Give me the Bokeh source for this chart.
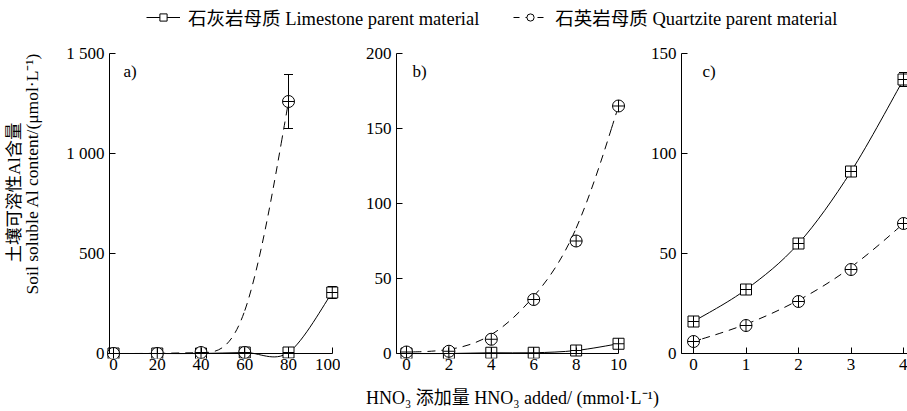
import numpy as np
from bokeh.plotting import figure
from bokeh.models import (ColumnDataSource, Whisker, FixedTicker, Label, Legend,
                          LegendItem, Range1d, TeeHead, LinearAxis)
from bokeh.layouts import column, row
from bokeh.embed import file_html
from bokeh.resources import INLINE

# ---------------- data ----------------
a_x = [0, 20, 40, 60, 80, 100]
a_lime = [0, 0, 0, 5, 5, 305]
a_lime_err = [5, 5, 10, 10, 10, 30]
a_qx = [0, 20, 40, 60, 80]
a_quartz = [0, 0, 5, 5, 1260]
a_quartz_err = [5, 5, 10, 10, 135]

b_x = [0, 2, 4, 6, 8, 10]
b_lime = [0, 0, 0.5, 0.5, 2, 6.5]
b_lime_err = [0.5, 0.5, 0.8, 0.8, 1, 1.5]
b_quartz = [1, 1.5, 9.5, 36, 75, 165]
b_quartz_err = [0.5, 0.8, 2, 2.5, 3, 2]

c_x = [0, 1, 2, 3, 4]
c_lime = [16, 32, 55, 91, 137]
c_lime_err = [1.5, 1.5, 2, 2.5, 3.5]
c_quartz = [6, 14, 26, 42, 65]
c_quartz_err = [1.5, 1.5, 1.5, 1.5, 1.5]

a_xticks = [0, 20, 40, 60, 80, 100]
a_yticks = [0, 500, 1000, 1500]
b_xticks = [0, 2, 4, 6, 8, 10]
b_yticks = [0, 50, 100, 150, 200]
c_xticks = [0, 1, 2, 3, 4]
c_yticks = [0, 50, 100, 150]

lime_name = "石灰岩母质 Limestone parent material"
quartz_name = "石英岩母质 Quartzite parent material"
x_title = "HNO\u2083 添加量 HNO\u2083 added/ (mmol·L\u207b\u00b9)"
y_title_cn = "土壤可溶性Al含量"
y_title_en = "Soil soluble Al content/(μmol·L\u207b\u00b9)"

FONT = "'Liberation Serif', 'Noto Sans CJK SC', serif"
FS = "17px"
FS_T = "17.5px"
FS_L = "18.5px"

PANEL_H = 345


def catmull_rom(xs, ys):
    px = [xs[0]] + list(xs) + [xs[-1]]
    py = [ys[0]] + list(ys) + [ys[-1]]
    d = dict(x0=[], y0=[], x1=[], y1=[], cx0=[], cy0=[], cx1=[], cy1=[])
    for i in range(1, len(px) - 2):
        d["x0"].append(px[i]); d["y0"].append(py[i])
        d["x1"].append(px[i + 1]); d["y1"].append(py[i + 1])
        d["cx0"].append(px[i] + (px[i + 1] - px[i - 1]) / 6)
        d["cy0"].append(py[i] + (py[i + 1] - py[i - 1]) / 6)
        d["cx1"].append(px[i + 1] - (px[i + 2] - px[i]) / 6)
        d["cy1"].append(py[i + 1] - (py[i + 2] - py[i]) / 6)
    return d


def bspline(xs, ys):
    px = [xs[0]] * 2 + list(xs) + [xs[-1]] * 2
    py = [ys[0]] * 2 + list(ys) + [ys[-1]] * 2
    d = dict(x0=[], y0=[], x1=[], y1=[], cx0=[], cy0=[], cx1=[], cy1=[])
    for i in range(1, len(px) - 2):
        for arr, k in ((px, "x"), (py, "y")):
            p0, p1, p2, p3 = arr[i - 1], arr[i], arr[i + 1], arr[i + 2]
            d[k + "0"].append((p0 + 4 * p1 + p2) / 6)
            d["c" + k + "0"].append((2 * p1 + p2) / 3)
            d["c" + k + "1"].append((p1 + 2 * p2) / 3)
            d[k + "1"].append((p1 + 4 * p2 + p3) / 6)
    return d


def style_axes(p, xticks, yticks, axis_x, x_axis_end, ytop):
    # label-only axes on the frame edges
    for ax, t in ((p.xaxis[0], xticks), (p.yaxis[0], yticks)):
        ax.ticker = FixedTicker(ticks=t, minor_ticks=[])
        ax.axis_line_color = None
        ax.major_tick_line_color = None
        ax.minor_tick_line_color = None
        ax.major_tick_in = 0
        ax.major_tick_out = 0
        ax.major_label_text_font = FONT
        ax.major_label_text_font_size = FS
        ax.major_label_text_color = "black"
    p.xaxis[0].major_label_standoff = 0
    p.yaxis[0].major_label_standoff = 1
    # line + ticks axes through the data origin
    fx = LinearAxis(fixed_location=0, bounds=(axis_x, x_axis_end),
                    ticker=FixedTicker(ticks=xticks, minor_ticks=[]),
                    major_tick_in=6, major_tick_out=0, minor_tick_in=0, minor_tick_out=0,
                    axis_line_color="black", major_tick_line_color="black",
                    major_label_text_color=None)
    fy = LinearAxis(fixed_location=axis_x, bounds=(0, ytop),
                    ticker=FixedTicker(ticks=yticks, minor_ticks=[]),
                    major_tick_in=6, major_tick_out=0, minor_tick_in=0, minor_tick_out=0,
                    axis_line_color="black", major_tick_line_color="black",
                    major_label_text_color=None)
    p.add_layout(fx, "below")
    p.add_layout(fy, "left")


def add_series(p, xs, ys, errs, marker, size, dash, curve):
    d = curve(xs, ys)
    p.bezier(x0="x0", y0="y0", x1="x1", y1="y1", cx0="cx0", cy0="cy0",
             cx1="cx1", cy1="cy1", source=ColumnDataSource(d),
             line_color="black", line_width=1, line_dash=dash)
    src = ColumnDataSource(dict(x=xs, y=ys,
                                upper=[v + e for v, e in zip(ys, errs)],
                                lower=[v - e for v, e in zip(ys, errs)]))
    w = Whisker(base="x", upper="upper", lower="lower", source=src,
                dimension="height", line_color="black", line_width=1,
                upper_head=TeeHead(size=9, line_color="black", line_width=1),
                lower_head=TeeHead(size=9, line_color="black", line_width=1))
    p.add_layout(w)
    p.scatter("x", "y", source=src, marker=marker, size=size,
              fill_color="white", line_color="black", line_width=1)


def make_panel(width, mbl, xr, yr, axis_x, x_axis_end, ytop, xticks, yticks,
               lx, lime, lime_err, qx, quartz, quartz_err, tag, lab_x):
    p = figure(width=width, height=PANEL_H, x_range=Range1d(*xr), y_range=Range1d(*yr),
               output_backend="svg", toolbar_location=None,
               min_border_left=mbl, min_border_right=0, min_border_top=13,
               min_border_bottom=25, outline_line_color=None,
               background_fill_color=None, border_fill_color=None)
    p.grid.visible = False
    style_axes(p, xticks, yticks, axis_x, x_axis_end, ytop)
    add_series(p, lx, lime, lime_err, "square_cross", 11, "solid", catmull_rom)
    add_series(p, qx, quartz, quartz_err, "circle_cross", 12, "8 6", bspline)
    p.add_layout(Label(x=lab_x, y=287, x_units="screen", y_units="screen", text=tag,
                       text_font=FONT, text_font_size=FS, text_color="black",
                       text_baseline="alphabetic"))
    return p


def text_strip(width, height):
    f = figure(width=width, height=height, x_range=Range1d(0, 1), y_range=Range1d(0, 1),
               output_backend="svg", toolbar_location=None, min_border=0,
               outline_line_color=None, x_axis_location=None, y_axis_location=None,
               background_fill_color=None, border_fill_color=None)
    f.grid.visible = False
    return f


pa = make_panel(295, 60, (-3.66, 103.77), (-25, 1510), -1.83, 100, 1500,
                a_xticks, a_yticks, a_x, a_lime, a_lime_err, a_qx, a_quartz,
                a_quartz_err, "a)", 18)
pa.yaxis[0].major_label_overrides = {1000: "1 000", 1500: "1 500"}

pb = make_panel(288, 52, (-0.66, 10.47), (-3.33, 201.33), -0.47, 10, 200,
                b_xticks, b_yticks, b_x, b_lime, b_lime_err, b_x, b_quartz,
                b_quartz_err, "b)", 20)

pc = make_panel(279, 49, (-0.305, 4.076), (-2.5, 151), -0.229, 4.076, 150,
                c_xticks, c_yticks, c_x, c_lime, c_lime_err, c_x, c_quartz,
                c_quartz_err, "c)", 25)

# ---------------- y title strip ----------------
ys = text_strip(45, PANEL_H)
ys.add_layout(Label(x=13, y=166, x_units="screen", y_units="screen",
                    text=y_title_cn, angle=90, angle_units="deg",
                    text_align="center", text_baseline="middle",
                    text_font=FONT, text_font_size=FS_T, text_color="black"))
ys.add_layout(Label(x=31, y=185, x_units="screen", y_units="screen",
                    text=y_title_en, angle=90, angle_units="deg",
                    text_align="center", text_baseline="middle",
                    text_font=FONT, text_font_size=FS_T, text_color="black"))

# ---------------- x title strip ----------------
xs_strip = text_strip(907, 28)
xs_strip.add_layout(Label(x=512, y=14, x_units="screen", y_units="screen",
                          text=x_title, text_align="center", text_baseline="middle",
                          text_font=FONT, text_font_size="18px", text_color="black"))

# ---------------- legend strip ----------------
leg = text_strip(907, 38)
nan = dict(x=[np.nan], y=[np.nan])
l1 = leg.line("x", "y", source=ColumnDataSource(nan), line_color="black", line_width=1)
m1 = leg.scatter("x", "y", source=ColumnDataSource(nan), marker="square", size=11,
                 fill_color="white", line_color="black")
l2 = leg.line("x", "y", source=ColumnDataSource(nan), line_color="black", line_width=1,
              line_dash="6 6")
m2 = leg.scatter("x", "y", source=ColumnDataSource(nan), marker="circle", size=12,
                 fill_color="white", line_color="black")
legend = Legend(items=[LegendItem(label=lime_name, renderers=[l1, m1]),
                       LegendItem(label=quartz_name, renderers=[l2, m2])],
                orientation="horizontal", location=(146, 8),
                label_text_font=FONT, label_text_font_size=FS_L, label_text_color="black",
                glyph_width=34, glyph_height=18, label_standoff=8, spacing=34,
                padding=0, margin=0, border_line_color=None,
                background_fill_alpha=0)
leg.add_layout(legend)

layout = column(leg, row(ys, pa, pb, pc), xs_strip)
open("out.html", "w").write(file_html(layout, INLINE))
